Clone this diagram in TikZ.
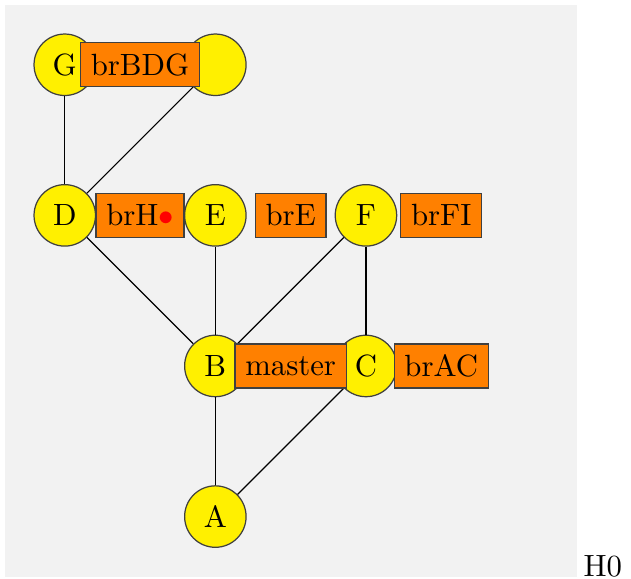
\documentclass[tikz,border=0pt]{standalone}
\usepackage{xcolor}
\begin{document}
\begin{tikzpicture}[x=49pt, y=49pt,
  commit/.style={circle, draw=black!75, fill={rgb,255:red,255;green,240;blue,0}, minimum size=20pt, inner sep=0pt},
  branch/.style={rectangle, draw=black!75, fill=orange, minimum height=14.3pt}]
\useasboundingbox (-0.43,0.43) rectangle (3.76,-3.41);
\fill[black!5] (-0.4,0.4) rectangle (3.4,-3.4);

\node[commit] (G) at (0,0) {G};
\node[commit] (X) at (1,0) {};
\node[commit] (D) at (0,-1) {D};
\node[commit] (E) at (1,-1) {E};
\node[commit] (F) at (2,-1) {F};
\node[commit] (B) at (1,-2) {B};
\node[commit] (C) at (2,-2) {C};
\node[commit] (A) at (1,-3) {A};

\draw (G)--(D);
\draw (X)--(D);
\draw (D)--(B);
\draw (E)--(B);
\draw (F)--(B);
\draw (F)--(C);
\draw (B)--(A);
\draw (C)--(A);

\node[branch] (brBDG) at (0.5,0) {brBDG};
\node[branch] (brH) at (0.5,-1) {brH\textcolor{red}{$\bullet$}};
\node[branch] (brE) at (1.5,-1) {brE};
\node[branch] (brFI) at (2.5,-1) {brFI};
\node[branch] (master) at (1.5,-2) {master};
\node[branch] (brAC) at (2.5,-2) {brAC};

\node[anchor=base west, inner sep=2pt] (H0) at (3.4,-3.4) {H0};
\end{tikzpicture}
\end{document}
